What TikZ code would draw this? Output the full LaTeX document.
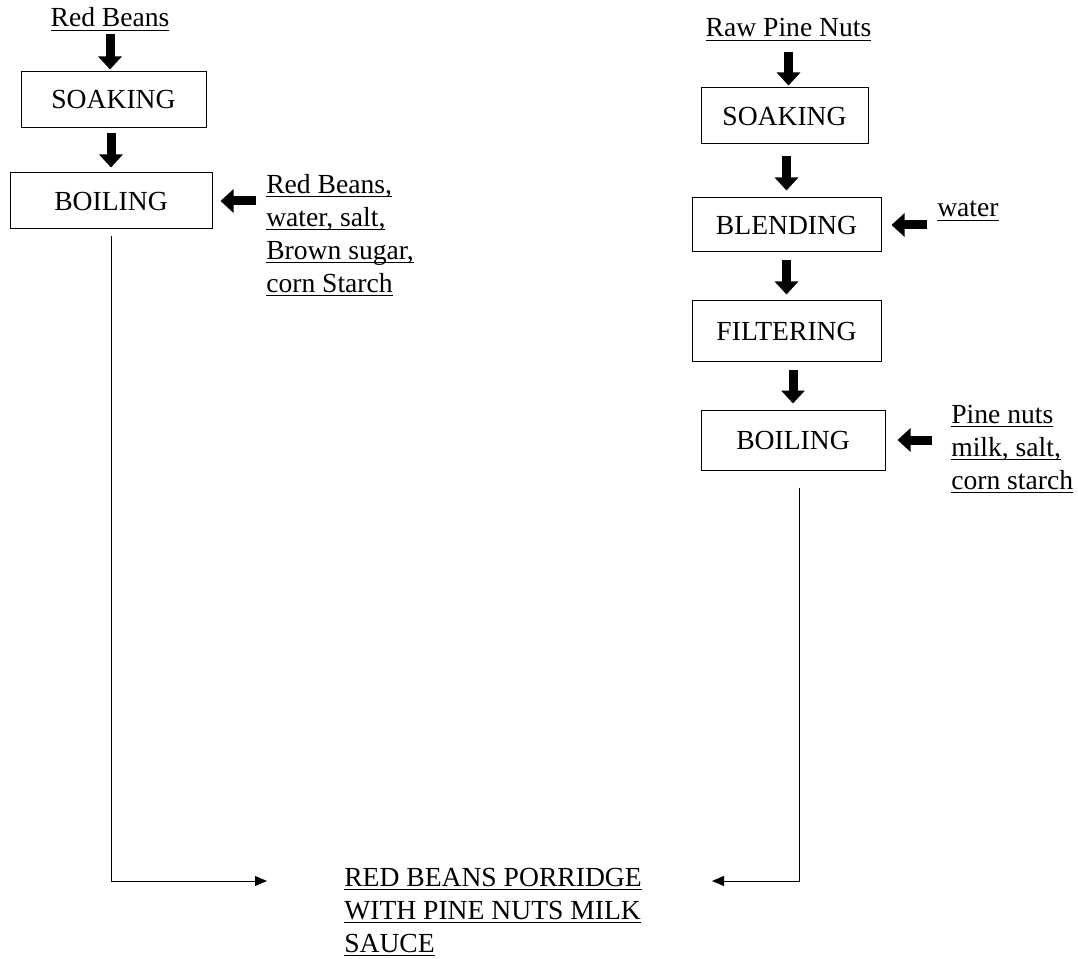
\documentclass[tikz,border=0pt]{standalone}
\usepackage{fontspec}
\setmainfont{Liberation Serif}
\usetikzlibrary{arrows.meta}
\newcommand{\ulx}[1]{\setbox0\hbox{#1}\rlap{\rule[-3pt]{\wd0}{0.75pt}}\box0}
\begin{document}
\begin{tikzpicture}[x=0.75pt,y=-0.75pt,
  every node/.style={font=\fontsize{20.7pt}{24.75pt}\selectfont},
  txt/.style={inner sep=0pt},
  box/.style={draw, line width=0.75pt, inner sep=0pt},
  fat/.style={line width=6.75pt, -{Triangle[width=17.25pt,length=9.75pt]}},
  thinarr/.style={line width=0.75pt, -{Triangle[width=7.5pt,length=9pt]}}]
\useasboundingbox (0,0) rectangle (1078,959);

% left column
\node[txt, anchor=base] (rb) at (110,27) {\ulx{Red Beans}};
\node[box, minimum width=138.75pt, minimum height=42pt] (s1) at (113.5,100) {SOAKING};
\node[box, minimum width=151.5pt, minimum height=42pt] (b1) at (111,201) {BOILING};
\node[txt, anchor=north west, align=left] (i1) at (266,174)
  {\ulx{Red Beans,}\vphantom{d}\\ \ulx{water, salt,}\\ \ulx{Brown sugar,}\\ \ulx{corn Starch}};

% right column
\node[txt, anchor=base] (rp) at (788.5,37) {\ulx{Raw Pine Nuts}};
\node[box, minimum width=125.25pt, minimum height=42pt] (s2) at (784.5,116) {SOAKING};
\node[box, minimum width=141.75pt, minimum height=40.5pt] (bl) at (786.5,225) {BLENDING};
\node[txt, anchor=base west] (wa) at (937,217) {\ulx{water}};
\node[box, minimum width=141.75pt, minimum height=45pt] (fi) at (786.5,331) {FILTERING};
\node[box, minimum width=138pt, minimum height=45pt] (b2) at (793,440) {BOILING};
\node[txt, anchor=north west, align=left] (i2) at (951,404)
  {\ulx{Pine nuts}\vphantom{d}\\ \ulx{milk, salt,}\\ \ulx{corn starch}};

% final product
\node[txt, anchor=north west, align=left] (fin) at (344,867)
  {\ulx{RED BEANS PORRIDGE}\vphantom{d}\\ \ulx{WITH PINE NUTS MILK}\\ \ulx{SAUCE}};
\coordinate (f1) at (267,881);
\coordinate (f2) at (712,881);

% left arrows
\draw[fat, shorten <=2.25pt, shorten >=1.5pt] (rb.south) -- (rb.south |- s1.north);
\draw[fat, shorten <=3.75pt, shorten >=3.75pt] (b1.north |- s1.south) -- (b1.north);
\draw[fat, shorten <=7.5pt, shorten >=6pt] (b1.east -| i1.west) -- (b1.east);
\draw[thinarr, shorten <=5.25pt] (b1.south) |- (f1);

% right arrows
\draw[fat, shorten <=8.25pt, shorten >=1.5pt] (rp.south) -- (rp.south |- s2.north);
\draw[fat, shorten <=9pt, shorten >=5.25pt] (bl.north |- s2.south) -- (bl.north);
\draw[fat, shorten <=7.5pt, shorten >=7.5pt] (bl.east -| wa.west) -- (bl.east);
\draw[fat, shorten <=6pt, shorten >=4.5pt] (bl.south) -- (fi.north);
\draw[fat, shorten <=6pt, shorten >=4.5pt] (b2.north |- fi.south) -- (b2.north);
\draw[fat, shorten <=14.25pt, shorten >=9pt] (b2.east -| i2.west) -- (b2.east);
\draw[thinarr, shorten <=12.75pt] ([xshift=4.5pt]b2.south) |- (f2);
\end{tikzpicture}
\end{document}
